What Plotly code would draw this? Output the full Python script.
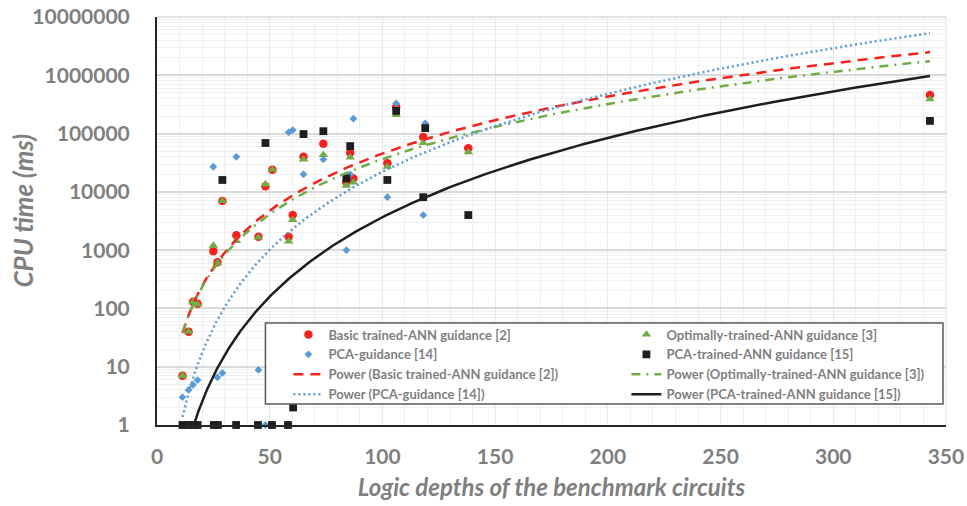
import numpy as np
import plotly.graph_objects as go

# ---- data ----
basic_x = [11.3, 14.0, 16.0, 18.0, 25.0, 26.8, 29.0, 35.2, 45.0, 48.1, 51.2, 58.4, 60.2,
           65.0, 73.8, 84.0, 85.7, 87.1, 102.2, 106.1, 118.1, 138.1, 342.9]
basic_y = [7, 40, 130, 120, 960, 620, 7000, 1800, 1700, 12500, 24000, 1700, 4000,
           40000, 67000, 14700, 47000, 17000, 31000, 285000, 87000, 56000, 460000]

optimal_x = [11.3, 14.0, 16.0, 18.0, 25.0, 26.8, 29.0, 35.2, 45.0, 48.1, 51.2, 58.4, 60.2,
             65.0, 73.8, 84.0, 85.7, 87.1, 102.2, 106.1, 118.1, 138.1, 342.9]
optimal_y = [7, 40, 130, 118, 1200, 600, 7000, 1450, 1650, 13500, 24000, 1420, 3300,
             36000, 43000, 12800, 39000, 14500, 27000, 210000, 69000, 48000, 390000]

# the last PCA point sits under the PCA-trained square (its trendline reaches x = 343)
pca_x = [11.3, 14.0, 16.0, 18.0, 25.0, 26.8, 29.0, 35.2, 45.0, 48.1, 58.4, 60.2,
         65.0, 73.8, 84.0, 85.7, 87.1, 102.2, 106.1, 118.1, 119.0, 342.9]
pca_y = [3, 4, 4.9, 5.9, 27000, 6.6, 7.8, 40000, 8.8, 1, 105000, 115000,
         20000, 36000, 1000, 20000, 180000, 8100, 330000, 4000, 150000, 165000]

pcat_x = [11.3, 14.0, 16.2, 18.0, 25.2, 27.0, 35.1, 44.8, 51.0, 58.1, 60.4,
          29.0, 48.1, 65.0, 73.8, 84.0, 85.7, 102.2, 106.1, 119.0, 118.1, 138.1, 342.9]
pcat_y = [1, 1, 1, 1, 1, 1, 1, 1, 1, 1, 2,
          16000, 69000, 98000, 110000, 17000, 61000, 16000, 245000, 124000, 8100, 4000, 165000]

trend_x0 = [11.3, 11.3, 11.3, 16.3]
trend_y0 = [38, 39, 1.37, 1]
trend_x1 = [342.9, 342.9, 342.9, 342.9]
trend_y1 = [2.5e6, 1.75e6, 5.3e6, 9.7e5]

y_tickvals = [1, 10, 100, 1000, 10000, 100000, 1000000, 10000000]
y_ticktext = ["1", "10", "100", "1000", "10000", "100000", "1000000", "10000000"]
x_tickvals = [0, 50, 100, 150, 200, 250, 300, 350]

names = ["Basic trained-ANN guidance [2]", "Optimally-trained-ANN guidance [3]",
         "PCA-guidance [14]", "PCA-trained-ANN guidance [15]"]

RED, GREEN, BLUE, BLACK = "#f7201c", "#70ad47", "#5b9bd5", "#1e1e1e"
GRAY = "#7f7f7f"

series = [
    (basic_x, basic_y, names[0], RED, "circle", 8.5),
    (optimal_x, optimal_y, names[1], GREEN, "triangle-up", 8.5),
    (pca_x, pca_y, names[2], BLUE, "diamond", 6),
    (pcat_x, pcat_y, names[3], BLACK, "square", 7.8),
]
trend_styles = [
    (RED, "10px,7px", 2.5),
    (GREEN, "9px,6px,2px,6px", 2.5),
    (BLUE, "2px,3px", 2.5),
    (BLACK, "solid", 2.5),
]

fig = go.Figure()
for xs, ys, nm, col, sym, sz in series:
    fig.add_trace(go.Scatter(x=xs, y=ys, mode="markers", name=nm, cliponaxis=False,
                             marker=dict(color=col, symbol=sym, size=sz, line=dict(width=0))))

for i, ((xs, ys, nm, col, sym, sz), (lc, dash, lw)) in enumerate(zip(series, trend_styles)):
    b = np.log(trend_y1[i] / trend_y0[i]) / np.log(trend_x1[i] / trend_x0[i])
    a = trend_y0[i] / trend_x0[i] ** b
    tx = np.geomspace(min(xs), max(xs), 300)
    ty = a * tx ** b
    fig.add_trace(go.Scatter(x=tx, y=ty, mode="lines", name="Power (" + nm + ")",
                             line=dict(color=lc, dash=dash, width=lw)))

# plot-area geometry in page pixels
W, H = 967, 506
L, R, T, B = 156.5, 946.0, 17.0, 425.0
def px(x):
    return (x - L) / (R - L)
def py(y):
    return (B - y) / (B - T)

# plot-area top and right edge gridlines
fig.add_shape(type="line", xref="paper", yref="paper", x0=0, x1=1, y0=1, y1=1,
              line=dict(color="#d9d9d9", width=1.5), layer="below")
fig.add_shape(type="line", xref="paper", yref="paper", x0=1, x1=1, y0=0, y1=1,
              line=dict(color="#e8e8e8", width=1.2), layer="below")

# legend frame
fig.add_shape(type="rect", xref="paper", yref="paper",
              x0=px(265), x1=px(943), y0=py(404), y1=py(323),
              fillcolor="white", line=dict(color="#595959", width=1.5), layer="above")

tickfont = dict(family="Lato", size=21, color=GRAY, weight="bold")
xtitlefont = dict(family="Lato", size=24, color=GRAY, weight="bold", style="italic")
ytitlefont = dict(family="Lato", size=26, color=GRAY, weight="bold", style="italic")

# y-axis title
fig.add_annotation(text="CPU time (ms)", xref="paper", yref="paper",
                   x=px(22), y=py(211), xanchor="center", yanchor="middle",
                   textangle=-90, showarrow=False, font=ytitlefont)

fig.update_layout(
    width=W, height=H,
    margin=dict(l=L, r=W - R, t=T, b=H - B, autoexpand=False),
    plot_bgcolor="white", paper_bgcolor="white",
    font=dict(family="Lato", color=GRAY),
    showlegend=True,
    legend=dict(orientation="h", x=px(288), y=py(319.5), xanchor="left", yanchor="top",
                bgcolor="rgba(0,0,0,0)", borderwidth=0,
                entrywidth=293, entrywidthmode="pixels",
                font=dict(family="Lato", size=13, color=GRAY, weight="bold"),
                tracegroupgap=0),
    xaxis=dict(range=[0, 350.02], tickvals=x_tickvals, showgrid=True, gridcolor="#e8e8e8",
               gridwidth=1.2, minor=dict(dtick=10, tick0=0, showgrid=True, gridcolor="#efefef", gridwidth=1),
               showline=True, linecolor="#262626", linewidth=2, zeroline=False,
               tickfont=tickfont, ticks="", ticklabelstandoff=12, ticklabeloverflow="allow",
               title=dict(text="Logic depths of the benchmark circuits", font=xtitlefont, standoff=12)),
    yaxis=dict(type="log", range=[0, 7.0004], tickvals=y_tickvals, ticktext=y_ticktext,
               showgrid=True, gridcolor="#d9d9d9", gridwidth=1.5,
               minor=dict(dtick="D1", showgrid=True, gridcolor="#f0f0f0", gridwidth=1),
               showline=True, linecolor="#262626", linewidth=2, zeroline=False,
               tickfont=tickfont, ticks="", ticklabelstandoff=21, ticklabeloverflow="allow"),
)

fig.write_html("out.html", config={"displayModeBar": False},
               post_script="document.body.style.margin='0';document.body.style.overflow='hidden';")
